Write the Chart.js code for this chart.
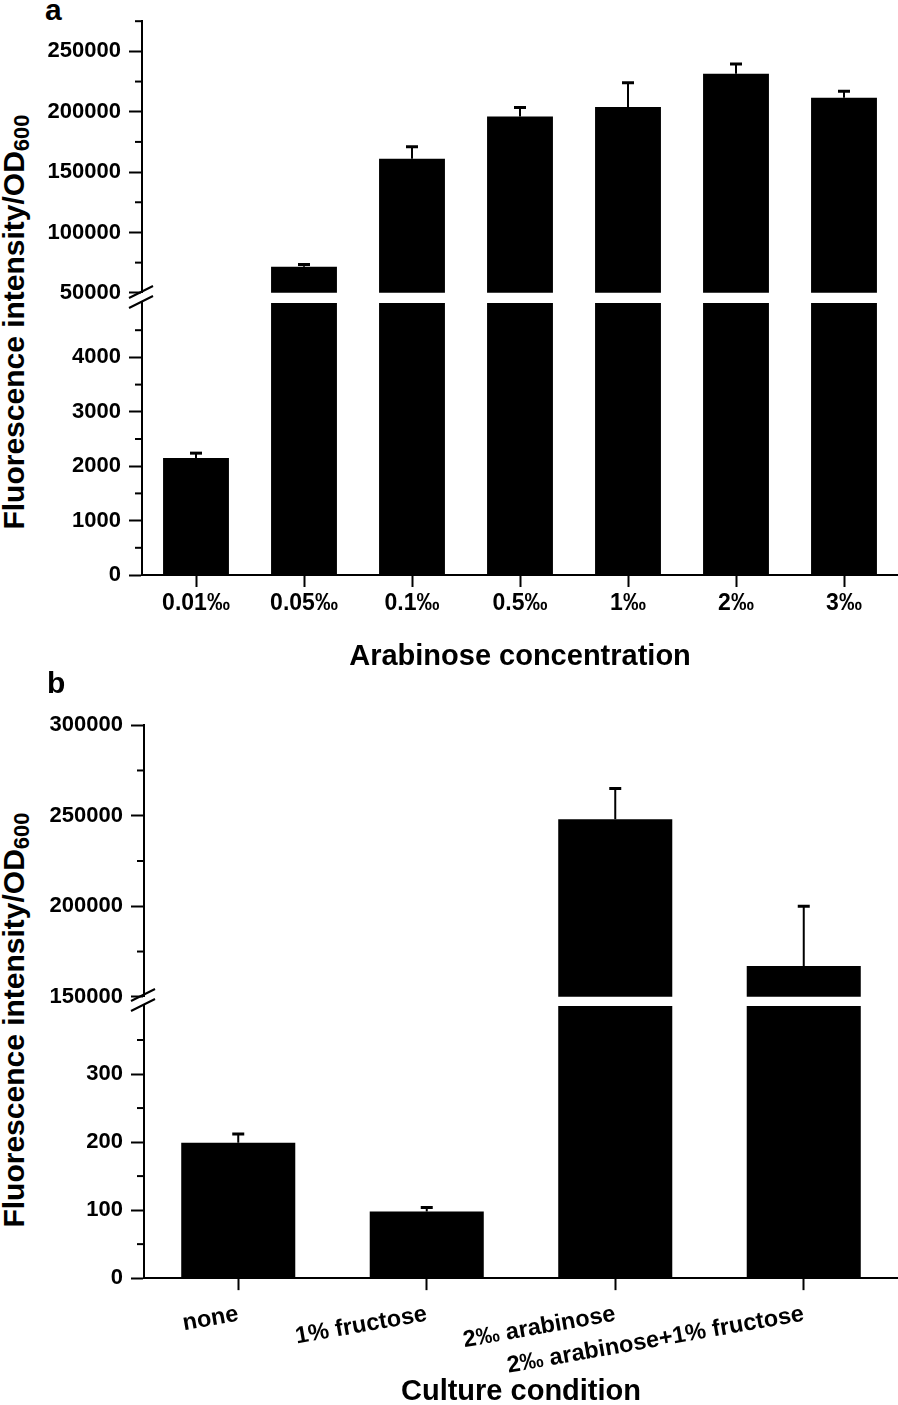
<!DOCTYPE html>
<html lang="en">
<head>
  <meta charset="UTF-8">
  <title>Fluorescence intensity / OD600</title>
  <style>
    body{ margin:0; background:#fff; overflow:hidden; }
    #wrap{ position:relative; width:898px; height:1405px; overflow:hidden; font-family:"Liberation Sans", Arial, sans-serif; }
    #wrap canvas{ position:absolute; left:0; }
    .panel{ position:absolute; font-size:30px; font-weight:bold; line-height:30px; }
    .ytitle{
      position:absolute; font-size:30px; font-weight:bold; line-height:30px; white-space:nowrap;
      transform:translate(-50%,-50%) rotate(-90deg);
    }
    .ytitle span{ position:relative; top:5px; font-size:22px; }
  </style>
</head>
<body>
  <div id="wrap">
    <div class="panel" style="left:45px;top:-5px">a</div>
    <div class="ytitle" style="left:15px;top:322px">Fluorescence intensity/OD<span>600</span></div>
    <canvas id="a1" width="898" height="314" style="top:0px"></canvas>
    <canvas id="a2" width="898" height="395" style="top:279px"></canvas>

    <div class="panel" style="left:47px;top:668px">b</div>
    <div class="ytitle" style="left:15px;top:1020px">Fluorescence intensity/OD<span>600</span></div>
    <canvas id="b1" width="898" height="314" style="top:704px"></canvas>
    <canvas id="b2" width="898" height="423" style="top:982px"></canvas>
  </div>

  <script src="https://cdn.jsdelivr.net/npm/chart.js"></script>
  <script type="text/javascript">
    // panel a
    const aLabels = ['0.01‰', '0.05‰', '0.1‰', '0.5‰', '1‰', '2‰', '3‰'];
    const aMeans = [2150, 71600, 161000, 196000, 204000, 231500, 211500];
    const aErrors = [90, 1800, 10000, 7500, 20000, 8000, 5500];

    // panel b
    const bLabels = ['none', '1% fructose', '2‰ arabinose', '2‰ arabinose+1% fructose'];
    const bMeans = [199, 98, 248000, 167000];
    const bErrors = [13, 6, 17000, 33000];

    // broken axis segments: [min, max, step, major step]
    const aHigh = [50000, 275000, 25000, 50000];
    const aLow = [0, 5000, 500, 1000];
    const bHigh = [150000, 300000, 25000, 50000];
    const bLow = [0, 400, 50, 100];

    Chart.defaults.font.family = '"Liberation Sans", Arial, sans-serif';
    Chart.defaults.font.weight = 'bold';
    Chart.defaults.color = '#000';

    function segChart(id, labels, means, errors, seg, cfg) {
      const [min, max, step, major] = seg;
      const isMajor = v => v % major === 0 && !(cfg.brk && v === max);

      // error bars on top of each bar
      const errorBars = {
        id: 'errorBars',
        afterDatasetsDraw(chart) {
          const ctx = chart.ctx, area = chart.chartArea, y = chart.scales.y;
          ctx.save();
          ctx.beginPath();
          ctx.rect(area.left, area.top, area.right - area.left, area.bottom - area.top);
          ctx.clip();
          ctx.strokeStyle = '#000';
          chart.getDatasetMeta(0).data.forEach((bar, i) => {
            const p0 = y.getPixelForValue(means[i]);
            const p1 = y.getPixelForValue(means[i] + errors[i]);
            ctx.lineWidth = 2;
            ctx.beginPath(); ctx.moveTo(bar.x, p0); ctx.lineTo(bar.x, p1); ctx.stroke();
            ctx.lineWidth = 3;
            ctx.beginPath(); ctx.moveTo(bar.x - 6, p1); ctx.lineTo(bar.x + 6, p1); ctx.stroke();
          });
          ctx.restore();
        }
      };

      // short minor ticks + axis break marks
      const axisExtras = {
        id: 'axisExtras',
        afterDraw(chart) {
          const ctx = chart.ctx, area = chart.chartArea, y = chart.scales.y;
          ctx.save();
          ctx.strokeStyle = '#000';
          ctx.lineWidth = 2;
          y.ticks.forEach(t => {
            if (t.value % major !== 0) {
              const py = y.getPixelForValue(t.value);
              ctx.beginPath(); ctx.moveTo(area.left - 7, py); ctx.lineTo(area.left, py); ctx.stroke();
            }
          });
          if (cfg.brk) {
            const L = area.left, T = area.top;
            ctx.beginPath(); ctx.moveTo(L - 13, T - 5); ctx.lineTo(L + 11, T - 17); ctx.stroke();
            ctx.beginPath(); ctx.moveTo(L - 13, T + 5); ctx.lineTo(L + 11, T - 7); ctx.stroke();
          }
          ctx.restore();
        }
      };

      return new Chart(document.getElementById(id), {
        type: 'bar',
        data: {
          labels: labels,
          datasets: [{
            data: means,
            backgroundColor: '#000',
            borderWidth: 0,
            barPercentage: cfg.barPct,
            categoryPercentage: 1,
            clip: 0
          }]
        },
        options: {
          responsive: false,
          animation: false,
          devicePixelRatio: 1,
          layout: { padding: { top: cfg.padTop, bottom: cfg.padBottom, left: 0, right: 0 } },
          plugins: { legend: { display: false }, tooltip: { enabled: false } },
          scales: {
            x: {
              display: cfg.showX,
              offset: true,
              grid: { offset: false, drawOnChartArea: false, drawTicks: true, tickLength: 12, tickWidth: 2, tickColor: '#000' },
              border: { display: true, color: '#000', width: 2 },
              ticks: {
                color: '#000', font: { size: cfg.xSize }, padding: cfg.xPad,
                minRotation: cfg.rot, maxRotation: cfg.rot, autoSkip: false
              },
              title: {
                display: !!cfg.xTitle, text: cfg.xTitle, color: '#000',
                font: { size: 29 }, padding: cfg.titlePad
              }
            },
            y: {
              min: min,
              max: max,
              afterFit: s => { s.width = cfg.axisW; },
              grid: {
                drawOnChartArea: false, drawTicks: true, tickLength: 13, tickWidth: 2,
                tickColor: c => (c.tick && isMajor(c.tick.value)) ? '#000' : 'rgba(0,0,0,0)'
              },
              border: { display: true, color: '#000', width: 2 },
              ticks: {
                stepSize: step, autoSkip: false, padding: 8, color: '#000', font: { size: 22 },
                callback: v => isMajor(v) ? String(v) : ''
              }
            }
          }
        },
        plugins: [errorBars, axisExtras]
      });
    }

    segChart('a1', aLabels, aMeans, aErrors, aHigh,
      { axisW: 142, showX: false, padTop: 18, padBottom: 16, barPct: 0.61, brk: false, rot: 0, xSize: 23, xPad: 5 });
    segChart('a2', aLabels, aMeans, aErrors, aLow,
      { axisW: 142, showX: true, padTop: 24, padBottom: 0, barPct: 0.61, brk: true, rot: 0, xSize: 23, xPad: 3,
        xTitle: 'Arabinose concentration', titlePad: { top: 18.6, bottom: 0 } });

    segChart('b1', bLabels, bMeans, bErrors, bHigh,
      { axisW: 144, showX: false, padTop: 17, padBottom: 16, barPct: 0.605, brk: false, rot: 10, xSize: 23.5, xPad: 10 });
    segChart('b2', bLabels, bMeans, bErrors, bLow,
      { axisW: 144, showX: true, padTop: 24, padBottom: 0, barPct: 0.605, brk: true, rot: 10, xSize: 23.5, xPad: 10,
        xTitle: 'Culture condition', titlePad: { top: -16, bottom: -4 } });
  </script>
</body>
</html>
